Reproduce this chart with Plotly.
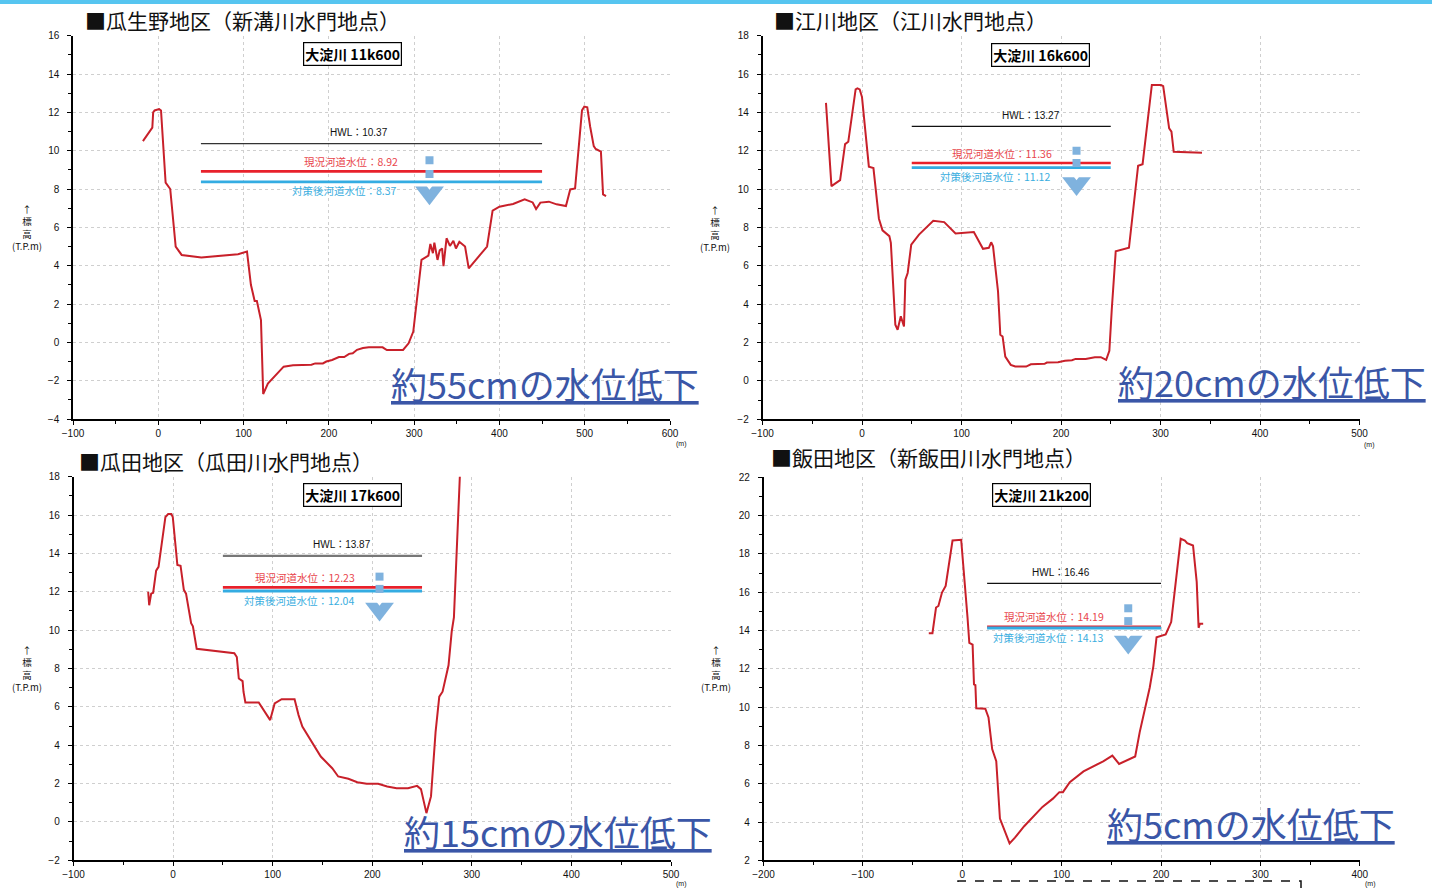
import plotly.graph_objects as go

W, H = 1432, 888

# ---------------- data ----------------
# Panel 1: 瓜生野地区 (大淀川 11k600)
p1_x = [-18, -7, -6, -4.3, 1, 3.2, 8.6, 14, 20.4, 27.4, 50.5, 93.5, 104, 108.6, 113, 115.6, 120.4, 123,
        128.5, 135.5, 147, 158, 179.6, 184, 193, 197, 203.8, 211.8, 218, 223.7, 228, 233, 240, 246.8, 263,
        268, 287, 293.5, 299, 308.6, 316.7, 319, 322, 323.7, 327.4, 330, 332.8, 334.4, 338, 342, 346, 349,
        353, 359.7, 362, 364, 385.5, 392, 400, 416, 429.6, 439, 443, 448, 458, 467, 478, 483, 488.7, 496.8,
        499.5, 503, 506.4, 509, 510.6, 512.9, 519, 521.5, 525]
p1_y = [10.5, 11.2, 12.0, 12.1, 12.17, 12.1, 8.33, 8.0, 5.0, 4.56, 4.43, 4.6, 4.74, 3.0, 2.16, 2.16, 1.16, -2.7,
        -2.15, -1.8, -1.27, -1.2, -1.17, -1.1, -1.1, -1.0, -0.92, -0.77, -0.77, -0.6, -0.57, -0.39, -0.3, -0.26, -0.26,
        -0.4, -0.4, -0.05, 0.56, 4.3, 4.52, 5.13, 4.65, 5.2, 4.3, 4.8, 4.9, 3.98, 5.43, 5.03, 5.3, 4.9,
        5.25, 5.0, 4.47, 3.86, 5.0, 6.87, 7.08, 7.22, 7.46, 7.3, 6.96, 7.29, 7.34, 7.2, 7.11, 7.98, 8.03, 12.1,
        12.3, 12.26, 11.25, 10.56, 10.24, 10.09, 9.95, 7.72, 7.63]

# Panel 2: 江川地区 (大淀川 16k600)
p2_x = [-36.2, -30.7, -22, -17, -13.8, -6.4, -4.6, -2.3, 0, 6.9, 11.5, 17, 20.6, 27.5, 29, 33.5, 35.8, 39, 42.2,
        43.6, 45.9, 49.5, 57.3, 71.6, 82.6, 94, 112.4, 121.6, 127.5, 129.8, 131.7, 136.7, 139, 141.3, 144, 149.5,
        154, 165, 169.7, 183.5, 185.8, 197, 204, 211, 214.7, 224.8, 234, 240, 245.4, 248.6, 251, 255, 268.3,
        277.5, 282, 291.3, 300.5, 302.7, 308.7, 311, 313.3, 341.7]
p2_y = [14.5, 10.16, 10.47, 12.35, 12.47, 15.2, 15.25, 15.2, 14.8, 11.17, 11.1, 8.46, 7.85, 7.55, 7.2, 2.93, 2.67, 3.37, 2.84,
        5.28, 5.63, 7.11, 7.63, 8.35, 8.28, 7.69, 7.76, 6.89, 6.94, 7.23, 7.02, 4.67, 2.41, 2.32, 1.27, 0.84,
        0.75, 0.75, 0.87, 0.89, 0.96, 0.98, 1.05, 1.08, 1.15, 1.15, 1.24, 1.24, 1.1, 1.57, 3.71, 6.76, 6.94,
        11.22, 11.3, 15.43, 15.43, 15.37, 13.17, 13.0, 11.95, 11.9]

# Panel 3: 瓜田地区 (大淀川 17k600)
p3_x = [-25, -24, -22, -20, -17, -14.6, -7.7, -4.9, -1.7, -0.3, 4.3, 7.5, 10.8, 13, 18.1, 19.9, 23.7, 61.5, 64,
        66, 69.8, 70.7, 72.6, 86, 97.5, 102, 109, 122, 126, 129.8, 148.3, 159.8, 165.8, 176, 185, 194.4, 205.9,
        215, 224.4, 235.9, 245, 248.9, 254.4, 259, 263.6, 267.3, 270.6, 276.6, 279.8, 282, 288.6]
p3_y = [12.0, 11.3, 11.9, 11.95, 13.1, 13.3, 15.9, 16.05, 16.05, 15.9, 13.4, 13.36, 12.1, 11.9, 10.36, 10.2, 9.03, 8.8, 8.6,
        7.48, 7.34, 6.79, 6.23, 6.23, 5.31, 6.18, 6.4, 6.4, 5.57, 4.97, 3.41, 2.8, 2.37, 2.25, 2.07, 1.99, 1.99,
        1.85, 1.76, 1.76, 1.88, 1.71, 0.46, 1.33, 4.7, 6.53, 6.79, 8.17, 9.93, 10.66, 18.8]

# Panel 4: 飯田地区 (大淀川 21k200)
p4_x = [-33.7, -30, -26.4, -24, -20.4, -16.7, -9.8, -1.1, 5.3, 7.1, 10.4, 11.8, 13.2, 14.1, 23.2, 26.4, 30.1, 34.2,
        37.9, 41.5, 47.6, 53, 57.7, 62.3, 80.7, 91.2, 97.7, 101.3, 108.2, 122, 141.8, 151, 157.8, 174, 178.5,
        188.6, 192.3, 195.5, 204.7, 210.2, 219.8, 224, 226.3, 232.2, 235.9, 237.8, 239.1, 242.4]
p4_y = [13.86, 13.86, 15.2, 15.28, 15.98, 16.33, 18.7, 18.74, 14.67, 13.35, 13.26, 11.19, 11.15, 9.94, 9.92, 9.46, 7.81, 7.17,
        4.18, 3.66, 2.88, 3.18, 3.49, 3.78, 4.79, 5.22, 5.56, 5.56, 6.08, 6.64, 7.17, 7.47, 7.03, 7.42, 8.68,
        11.01, 12.14, 13.65, 13.79, 14.44, 18.79, 18.7, 18.56, 18.44, 16.54, 14.14, 14.35, 14.35]

titles = ["■瓜生野地区（新溝川水門地点）", "■江川地区（江川水門地点）",
          "■瓜田地区（瓜田川水門地点）", "■飯田地区（新飯田川水門地点）"]
sections = ["大淀川 11k600", "大淀川 16k600", "大淀川 17k600", "大淀川 21k200"]
hwl = [10.37, 13.27, 13.87, 16.46]
wl_now = [8.92, 11.36, 12.23, 14.19]
wl_after = [8.37, 11.12, 12.04, 14.13]
level_x0 = [50, 50, 50, 25]
level_x1 = [450, 250, 250, 200]
drops = ["約55cmの水位低下", "約20cmの水位低下", "約15cmの水位低下", "約5cmの水位低下"]
x_ranges = [[-100, 600], [-100, 500], [-100, 500], [-200, 400]]
y_ranges = [[-4, 16], [-2, 18], [-2, 18], [2, 22]]
ylabel_text = "↑<br>標<br>高<br>(T.P.m)"

# water-level symbol positions
sym_x = [318, 215.6, 207.3, 167]
sym_sq1 = [9.5, 12.0, 12.79, 15.16]
sym_sq2 = [8.78, 11.36, 12.15, 14.49]
sym_tri = [7.8, 10.3, 11.1, 13.4]
lbl_hwl_x = [235, 170, 170, 99]
lbl_now_x = [226, 141, 132, 92]
lbl_after_x = [218, 134, 126, 86]

profiles = [(p1_x, p1_y), (p2_x, p2_y), (p3_x, p3_y), (p4_x, p4_y)]

# ---------------- layout geometry (pixels) ----------------
boxes = [(73, 670, 35.7, 419), (762.5, 1359.5, 35.7, 419.3),
         (73.5, 671, 476.7, 860.3), (763.5, 1359.8, 477.3, 860.3)]
title_pos = [(83, 20), (772, 20), (77, 461), (769, 457)]
sec_pos = [(352, 54), (1040, 55), (352, 495), (1041, 495)]
drop_pos = [(545, 383), (1272, 381), (558, 831), (1251, 823)]
ylab_pos = [(27, 227), (715, 228), (27, 668), (716, 668)]
munit_pos = [(681, 444), (1369, 445), (681, 884), (1370, 884)]
hwl_color = ["#333333", "#111111", "#777777", "#111111"]
hwl_width = [1.2, 1.2, 2.2, 1.2]

def px(x):
    return x / W

def py(y):
    return 1 - y / H

PROFILE = "#c8202a"
RED = "#e8212b"
BLUE = "#34ace2"
SYM = "#7fb2de"
DROP = "#3a56a7"
NARROW = "Liberation Sans Narrow, Arial Narrow, Liberation Sans, sans-serif"
TICKFONT = dict(family=NARROW, size=10, color="#111")
JP = "Noto Sans CJK JP, Noto Sans CJK SC, sans-serif"

fig = go.Figure()
annotations = []
shapes = []
layout_axes = {}

for i in range(4):
    xa = "x" if i == 0 else f"x{i+1}"
    ya = "y" if i == 0 else f"y{i+1}"
    xname = "xaxis" if i == 0 else f"xaxis{i+1}"
    yname = "yaxis" if i == 0 else f"yaxis{i+1}"
    l, r, t, b = boxes[i]
    common = dict(showline=True, linecolor="#000", linewidth=1.5, ticks="outside", ticklen=4, tickcolor="#000",
                  showgrid=True, gridcolor="#cfcfcf", griddash="dot", gridwidth=1, zeroline=False,
                  tickfont=TICKFONT, automargin=False, fixedrange=True)
    layout_axes[xname] = dict(
        domain=[px(l), px(r)], range=x_ranges[i], anchor=ya, dtick=100, tick0=0,
        minor=dict(dtick=50, ticks="outside", ticklen=3, tickcolor="#000", showgrid=False),
        **common)
    layout_axes[yname] = dict(
        domain=[py(b), py(t)], range=y_ranges[i], anchor=xa, dtick=2, tick0=0, ticklabelstandoff=6,
        minor=dict(dtick=1, ticks="outside", ticklen=3, tickcolor="#000", showgrid=False),
        **common)

    # water level lines
    lx = [level_x0[i], level_x1[i]]
    fig.add_trace(go.Scatter(x=lx, y=[hwl[i]] * 2, mode="lines", xaxis=xa, yaxis=ya,
                             line=dict(color=hwl_color[i], width=hwl_width[i]), hoverinfo="skip"))
    fig.add_trace(go.Scatter(x=lx, y=[wl_now[i]] * 2, mode="lines", xaxis=xa, yaxis=ya,
                             line=dict(color=RED, width=2.6), hoverinfo="skip"))
    fig.add_trace(go.Scatter(x=lx, y=[wl_after[i]] * 2, mode="lines", xaxis=xa, yaxis=ya,
                             line=dict(color=BLUE, width=2.8), hoverinfo="skip"))

    # water-level symbol
    fig.add_trace(go.Scatter(x=[sym_x[i]] * 2, y=[sym_sq1[i], sym_sq2[i]], mode="markers", xaxis=xa, yaxis=ya,
                             marker=dict(symbol="square", size=8, color=SYM, line=dict(width=0)),
                             hoverinfo="skip"))
    fig.add_trace(go.Scatter(x=[sym_x[i]], y=[sym_tri[i]], mode="markers", xaxis=xa, yaxis=ya,
                             marker=dict(symbol="triangle-down", size=25, color=SYM, line=dict(width=0)),
                             hoverinfo="skip"))
    fig.add_trace(go.Scatter(x=[sym_x[i]], y=[sym_tri[i] + 0.35], mode="markers", xaxis=xa, yaxis=ya,
                             marker=dict(symbol="triangle-down", size=7, color="white", line=dict(width=0)),
                             hoverinfo="skip"))

    # ground profile
    xs, ys = profiles[i]
    fig.add_trace(go.Scatter(x=xs, y=ys, mode="lines", xaxis=xa, yaxis=ya,
                             line=dict(color=PROFILE, width=2), hoverinfo="skip"))

    # level labels
    annotations.append(dict(x=lbl_hwl_x[i], y=hwl[i], xref=xa, yref=ya, text=f"HWL：{hwl[i]:.2f}",
                            showarrow=False, yshift=11, font=dict(family=NARROW + ", " + JP, size=10, color="#111")))
    annotations.append(dict(x=lbl_now_x[i], y=wl_now[i], xref=xa, yref=ya, text=f"現況河道水位：{wl_now[i]:.2f}",
                            showarrow=False, yshift=10, font=dict(family=JP, size=10.5, color="#e8454c")))
    annotations.append(dict(x=lbl_after_x[i], y=wl_after[i], xref=xa, yref=ya, text=f"対策後河道水位：{wl_after[i]:.2f}",
                            showarrow=False, yshift=-9, font=dict(family=JP, size=10.5, color="#3aaee0")))

    # section label box
    sx, sy = sec_pos[i]
    annotations.append(dict(x=px(sx), y=py(sy), xref="paper", yref="paper", text=f"<b>{sections[i]}</b>",
                            showarrow=False, xanchor="center", yanchor="middle",
                            font=dict(family=JP, size=14, color="#000"),
                            bordercolor="#000", borderwidth=1.2, borderpad=1, bgcolor="white"))
    # title
    tx, ty = title_pos[i]
    annotations.append(dict(x=px(tx), y=py(ty), xref="paper", yref="paper", text=titles[i],
                            showarrow=False, xanchor="left", yanchor="middle",
                            font=dict(family=JP, size=21, color="#111")))
    # drop annotation
    dx, dy = drop_pos[i]
    annotations.append(dict(x=px(dx), y=py(dy), xref="paper", yref="paper", text=drops[i],
                            showarrow=False, xanchor="center", yanchor="middle",
                            font=dict(family=JP, size=36, color=DROP, lineposition="under")))
    # y-axis label (stacked)
    lx_, ly_ = ylab_pos[i]
    annotations.append(dict(x=px(lx_), y=py(ly_), xref="paper", yref="paper",
                            text=ylabel_text, showarrow=False, xanchor="center", yanchor="middle",
                            align="center", font=dict(family=JP, size=9.5, color="#111")))
    # unit label
    mx, my = munit_pos[i]
    annotations.append(dict(x=px(mx), y=py(my), xref="paper", yref="paper", text="(m)",
                            showarrow=False, xanchor="center", yanchor="middle",
                            font=dict(family=NARROW, size=7, color="#111")))

# top bar
shapes.append(dict(type="rect", xref="paper", yref="paper", x0=0, x1=1, y0=py(4), y1=1,
                   fillcolor="#56c5f0", line=dict(width=0), layer="above"))
# dashed frame at bottom right
shapes.append(dict(type="rect", xref="paper", yref="paper", x0=px(958), x1=px(1301), y0=py(905), y1=py(881),
                   fillcolor="rgba(0,0,0,0)", line=dict(color="#111", width=1.5, dash="dash")))

fig.update_layout(
    width=W, height=H, margin=dict(l=0, r=0, t=0, b=0, autoexpand=False),
    paper_bgcolor="white", plot_bgcolor="white", showlegend=False,
    annotations=annotations, shapes=shapes, **layout_axes,
)

fig.write_html("out.html", config={"displayModeBar": False},
               post_script="document.body.style.margin='0px';document.body.style.padding='0px';")
